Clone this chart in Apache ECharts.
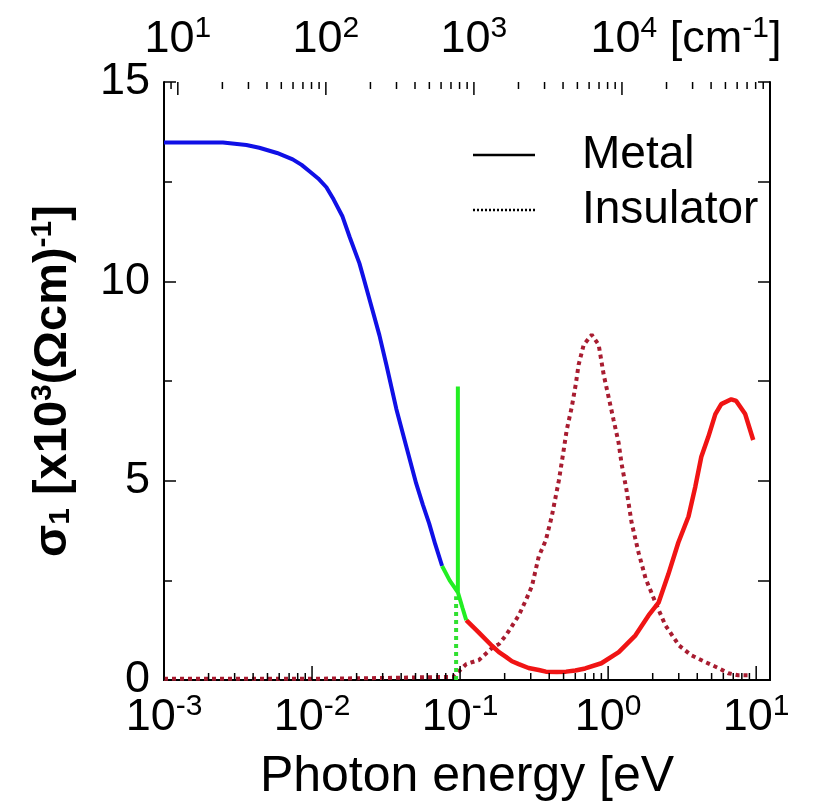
<!DOCTYPE html>
<html>
<head>
<meta charset="utf-8">
<script src="https://cdn.jsdelivr.net/npm/echarts@6/dist/echarts.min.js"></script>
<style>html,body{margin:0;padding:0;background:#fff}#c{width:817px;height:807px}</style>
</head>
<body>
<div id="c"></div>
<script>
// ---- data (photon energy in eV, sigma_1 in 10^3 (Ohm cm)^-1) ----
const metalBlue = [[0.001,13.48],[0.0025,13.48],[0.0036,13.42],[0.0044,13.35],[0.0058,13.22],[0.0074,13.06],[0.0085,12.92],[0.0096,12.76],[0.011,12.58],[0.0125,12.36],[0.014,12.05],[0.016,11.64],[0.018,11.1],[0.0209,10.45],[0.0226,10.0],[0.0255,9.3],[0.0285,8.65],[0.0318,7.9],[0.0371,6.8],[0.043,5.9],[0.0505,4.93],[0.056,4.4],[0.0618,3.93],[0.068,3.4],[0.0756,2.86]];
const metalGreen = [[0.0756,2.86],[0.085,2.5],[0.0966,2.2],[0.0966,7.36],[0.0966,2.2],[0.104,1.8],[0.11,1.5]];
const metalRed = [[0.11,1.5],[0.134,1.19],[0.164,0.86],[0.183,0.7],[0.204,0.58],[0.224,0.47],[0.249,0.4],[0.29,0.3],[0.34,0.25],[0.38,0.21],[0.45,0.2],[0.52,0.21],[0.6,0.24],[0.7,0.29],[0.9,0.42],[1.18,0.7],[1.53,1.12],[1.875,1.62],[2.19,1.94],[2.55,2.65],[2.98,3.45],[3.49,4.1],[3.88,4.85],[4.26,5.6],[4.75,6.1],[5.3,6.67],[5.81,6.92],[6.79,7.04],[7.33,7.0],[8.43,6.67],[9.55,6.02]];
const insulator = [[0.001,0.03],[0.003,0.03],[0.01,0.03],[0.03,0.05],[0.06,0.07],[0.09,0.08],[0.11,0.4],[0.134,0.5],[0.164,0.8],[0.183,0.9],[0.204,1.12],[0.224,1.35],[0.249,1.62],[0.278,2.0],[0.3055,2.35],[0.34,3.1],[0.379,3.5],[0.416,4.1],[0.4645,5.0],[0.501,5.77],[0.525,6.27],[0.5675,6.84],[0.604,7.41],[0.632,7.91],[0.684,8.41],[0.7745,8.66],[0.863,8.41],[0.933,7.66],[1.008,7.09],[1.089,6.52],[1.177,5.95],[1.233,5.42],[1.333,4.75],[1.44,3.95],[1.604,3.2],[1.79,2.55],[2.089,1.94],[2.438,1.37],[2.849,1.0],[3.0,0.87],[3.65,0.62],[4.54,0.45],[5.55,0.3],[6.48,0.17],[7.56,0.12],[8.83,0.12]];
const insulatorGreen = [[0.094,0],[0.094,2.1]];
const eVMin = 0.001, eVMax = 12.398;          // bottom axis range
const cmMin = 8.0655, cmMax = 100000;         // top axis range (cm^-1)
const yTicks = [0, 5, 10, 15];
const eVMajor = [[0.001,0],[0.01,0],[0.1,0],[1,0],[10,0]];
const cmMajor = [[10,0],[100,0],[1000,0],[10000,0]];
const eVMinor = [];   // 2..9 x 10^n eV
[-3,-2,-1,0].forEach(n => { for (let k = 2; k <= 9; k++) eVMinor.push([k * Math.pow(10, n), 0]); });
const cmMinor = [[9,0]];  // cm^-1 minor ticks
[1,2,3,4].forEach(n => { for (let k = 2; k <= 9; k++) cmMinor.push([k * Math.pow(10, n), 0]); });

const FONT = 'Liberation Sans';
function powLabel(v) {
  const n = Math.round(Math.log10(v));
  if (Math.abs(Math.log10(v) - n) > 1e-6) return '';
  return '{b|10}{s|' + n + '}';
}
const richTick = {
  b: {fontFamily: FONT, fontSize: 45, color: '#000'},
  s: {fontFamily: FONT, fontSize: 30, color: '#000', padding: [0, 0, 22, 0]},
  u: {fontFamily: FONT, fontSize: 45, color: '#000'},
  pad: {width: 128}
};
// legend icons: a solid bar and a row of small dots
const solidIcon = 'path://M0,0H62V2.5H0Z';
let dotIcon = 'path://';
for (let i = 0; i <= 60; i += 4) dotIcon += 'M' + i + ',0h2v2.5h-2Z';

const chart = echarts.init(document.getElementById('c'), null, {renderer: 'canvas'});
function tickSeries(data, xIdx, atTop, len) {
  return {
    type: 'custom', xAxisIndex: xIdx, yAxisIndex: 0, data: data, silent: true, z: 5,
    encode: {x: 0, y: 1},
    renderItem: function (params, api) {
      const x = api.coord([api.value(0), 0])[0];
      const cs = params.coordSys;
      const y0 = atTop ? cs.y : cs.y + cs.height;
      const y1 = atTop ? y0 + len : y0 - len;
      return {type: 'line', shape: {x1: x, y1: y0, x2: x, y2: y1}, style: {stroke: '#000', lineWidth: 1.5}};
    }
  };
}
const option = {
  animation: false,
  backgroundColor: '#fff',
  grid: {left: 164, right: 47, top: 82, bottom: 122},
  legend: {
    orient: 'vertical', left: 468, top: 125, itemWidth: 62, itemHeight: 2.5, itemGap: 5,
    textStyle: {fontFamily: FONT, fontSize: 46, color: '#000', lineHeight: 50, padding: [0, 0, 0, 42]},
    data: [
      {name: 'Metal', icon: solidIcon, itemStyle: {color: '#000', borderWidth: 0}},
      {name: 'Insulator', icon: dotIcon, itemStyle: {color: '#000', borderWidth: 0}}
    ]
  },
  xAxis: [
    {
      type: 'log', position: 'bottom', min: eVMin, max: eVMax,
      name: 'Photon energy [eV', nameLocation: 'middle', nameGap: 72,
      nameTextStyle: {fontFamily: FONT, fontSize: 50, color: '#000'},
      axisLine: {show: true, lineStyle: {color: '#000', width: 2}},
      axisTick: {show: false},
      axisLabel: {margin: 12, formatter: powLabel, rich: richTick, showMinLabel: true, showMaxLabel: true},
      splitLine: {show: false}
    },
    {
      type: 'log', position: 'top', min: cmMin, max: cmMax,
      axisLine: {show: true, lineStyle: {color: '#000', width: 2}},
      axisTick: {show: false},
      axisLabel: {
        margin: 16, rich: richTick,
        formatter: function (v) {
          const s = powLabel(v);
          if (s && Math.round(Math.log10(v)) === 4) return '{pad|}' + s + '{u| [cm}{s|-1}{u|]}';
          return s;
        }
      },
      splitLine: {show: false}
    }
  ],
  yAxis: [
    {
      type: 'value', position: 'left', min: 0, max: 15, interval: 5,
      name: '{t|σ}{sub|1}{t| [x10}{sup|3}{t|(Ωcm)}{sup|-1}{t|]}',
      nameLocation: 'middle', nameRotate: 90, nameGap: 86,
      nameTextStyle: {
        rich: {
          t: {fontFamily: FONT, fontSize: 47, fontWeight: 'bold', color: '#000'},
          sub: {fontFamily: FONT, fontSize: 30, fontWeight: 'bold', color: '#000', padding: [16, 0, 0, 0]},
          sup: {fontFamily: FONT, fontSize: 30, fontWeight: 'bold', color: '#000', padding: [0, 0, 20, 0]}
        }
      },
      axisLine: {show: true, lineStyle: {color: '#000', width: 2}},
      axisTick: {show: true, inside: true, length: 12, lineStyle: {color: '#000', width: 1.5}},
      minorTick: {show: true, splitNumber: 2, length: 8, lineStyle: {color: '#000', width: 1.5}},
      axisLabel: {margin: 14, fontFamily: FONT, fontSize: 45, color: '#000',
        formatter: v => yTicks.indexOf(v) >= 0 ? String(v) : ''},
      splitLine: {show: false}
    },
    {
      type: 'value', position: 'right', min: 0, max: 15, interval: 5,
      axisLine: {show: true, lineStyle: {color: '#000', width: 2}},
      axisTick: {show: true, inside: true, length: 12, lineStyle: {color: '#000', width: 1.5}},
      minorTick: {show: true, splitNumber: 2, length: 12, lineStyle: {color: '#000', width: 1.5}},
      axisLabel: {show: false},
      splitLine: {show: false}
    }
  ],
  series: [
    tickSeries(eVMinor, 0, false, 7),
    tickSeries(eVMajor, 0, false, 14),
    tickSeries(cmMinor, 1, true, 7),
    tickSeries(cmMajor, 1, true, 13),
    {name: 'Insulator', type: 'line', data: insulator, showSymbol: false, symbol: 'none', z: 3,
      lineStyle: {color: '#a81c30', width: 4, type: [4, 4], cap: 'butt'}},
    {name: 'InsulatorGreen', type: 'line', data: insulatorGreen, showSymbol: false, symbol: 'none', z: 3,
      lineStyle: {color: '#30e030', width: 4, type: [4, 4], cap: 'butt'}},
    {name: 'Metal', type: 'line', data: metalBlue, showSymbol: false, symbol: 'none', z: 4,
      lineStyle: {color: '#1010e6', width: 4}},
    {name: 'MetalRed', type: 'line', data: metalRed, showSymbol: false, symbol: 'none', z: 4,
      lineStyle: {color: '#f01414', width: 4.5}},
    {name: 'MetalGreen', type: 'line', data: metalGreen, showSymbol: false, symbol: 'none', z: 4,
      lineStyle: {color: '#22ee22', width: 4}}
  ]
};
chart.setOption(option);
</script>
</body>
</html>
